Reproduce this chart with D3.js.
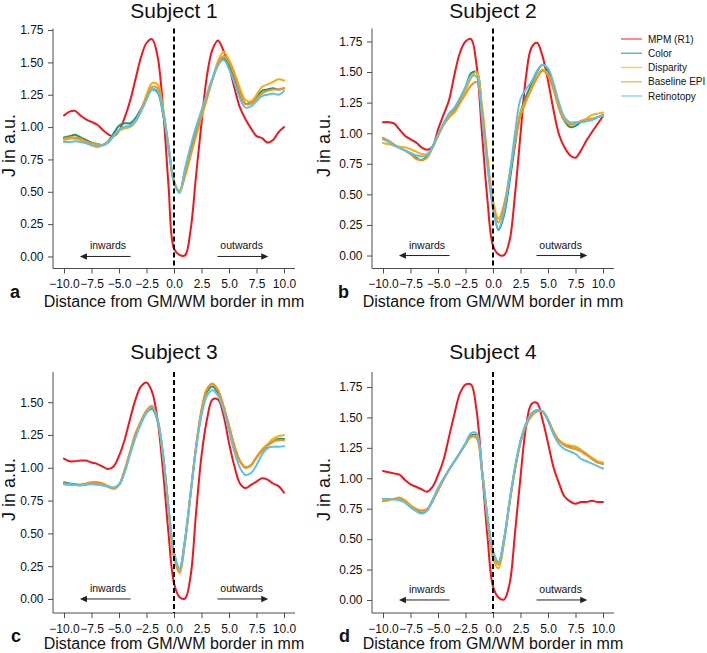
<!DOCTYPE html>
<html>
<head>
<meta charset="utf-8">
<script src="https://cdn.jsdelivr.net/npm/d3@7"></script>
<style>
  html, body { margin: 0; padding: 0; background: #fff; }
  svg { display: block; font-family: "Liberation Sans", Arial, Helvetica, sans-serif; }
</style>
</head>
<body>
<svg id="chart" width="707" height="653"></svg>
<script>
// ---------------- DATA ----------------
const positions = [-10, -9.5, -9, -8.5, -8, -7.5, -7, -6.5, -6, -5.5, -5, -4.5, -4, -3.5, -3, -2.5, -2, -1.5, -1, -0.5,
  0, 0.5, 1, 1.5, 2, 2.5, 3, 3.5, 4, 4.5, 5, 5.5, 6, 6.5, 7, 7.5, 8, 8.5, 9, 9.5, 10];

const subjects = ["Subject 1", "Subject 2", "Subject 3", "Subject 4"];
const panelLetters = ["a", "b", "c", "d"];
const seriesNames = ["MPM (R1)", "Color", "Disparity", "Baseline EPI", "Retinotopy"];
const seriesColors = ["#f0161e", "#13997a", "#f2b111", "#f7901e", "#5cc2e4"];
const xTicks = [-10, -7.5, -5, -2.5, 0, 2.5, 5, 7.5, 10];
const yTicks1 = [0, 0.25, 0.5, 0.75, 1, 1.25, 1.5, 1.75];
const yTicks2 = [0, 0.25, 0.5, 0.75, 1, 1.25, 1.5, 1.75];
const yTicks3 = [0, 0.25, 0.5, 0.75, 1, 1.25, 1.5];
const yTicks4 = [0, 0.25, 0.5, 0.75, 1, 1.25, 1.5, 1.75];
const xTitle = "Distance from GM/WM border in mm";
const yTitle = "J in a.u.";

// Subject 1
const s1_mpm = [1.09, 1.12, 1.125, 1.09, 1.06, 1.04, 1.02, 0.98, 0.945, 0.93, 0.97, 1.07, 1.20, 1.37, 1.54, 1.65, 1.68, 1.55, 1.15, 0.55,
  0.06, 0.012, 0.008, 0.2, 0.62, 1.03, 1.40, 1.60, 1.67, 1.59, 1.47, 1.30, 1.15, 1.06, 0.99, 0.93, 0.915, 0.88, 0.90, 0.96, 1.00];
const s1_color = [0.92, 0.93, 0.94, 0.92, 0.90, 0.88, 0.87, 0.86, 0.89, 0.95, 1.01, 1.03, 1.03, 1.07, 1.14, 1.23, 1.29, 1.27, 1.10, 0.84,
  0.58, 0.50, 0.66, 0.82, 0.97, 1.11, 1.24, 1.37, 1.48, 1.53, 1.47, 1.37, 1.25, 1.18, 1.19, 1.23, 1.28, 1.29, 1.30, 1.29, 1.30];
const s1_disp = [0.90, 0.91, 0.91, 0.90, 0.88, 0.86, 0.845, 0.86, 0.89, 0.93, 0.97, 0.99, 1.00, 1.04, 1.13, 1.25, 1.34, 1.33, 1.15, 0.86,
  0.58, 0.51, 0.63, 0.78, 0.93, 1.08, 1.22, 1.37, 1.51, 1.58, 1.52, 1.42, 1.30, 1.21, 1.20, 1.25, 1.31, 1.33, 1.35, 1.37, 1.36];
const s1_base = [0.91, 0.92, 0.92, 0.91, 0.89, 0.875, 0.87, 0.86, 0.88, 0.93, 0.98, 1.00, 1.01, 1.05, 1.13, 1.23, 1.31, 1.30, 1.12, 0.85,
  0.57, 0.50, 0.62, 0.78, 0.94, 1.09, 1.23, 1.37, 1.49, 1.55, 1.50, 1.40, 1.27, 1.18, 1.18, 1.22, 1.26, 1.28, 1.29, 1.29, 1.30];
const s1_ret = [0.885, 0.885, 0.89, 0.885, 0.875, 0.86, 0.855, 0.86, 0.88, 0.93, 0.98, 1.00, 1.01, 1.05, 1.12, 1.21, 1.29, 1.28, 1.12, 0.85,
  0.58, 0.49, 0.68, 0.85, 1.00, 1.13, 1.26, 1.38, 1.48, 1.52, 1.45, 1.34, 1.22, 1.15, 1.16, 1.20, 1.24, 1.25, 1.26, 1.25, 1.28];

// Subject 2
const s2_mpm = [1.09, 1.09, 1.08, 1.03, 0.98, 0.95, 0.925, 0.885, 0.865, 0.89, 1.03, 1.15, 1.27, 1.48, 1.66, 1.75, 1.77, 1.56, 1.00, 0.45,
  0.08, 0.01, 0.003, 0.12, 0.50, 0.99, 1.46, 1.70, 1.74, 1.63, 1.43, 1.19, 0.99, 0.885, 0.82, 0.80, 0.86, 0.94, 1.01, 1.075, 1.14];
const s2_color = [0.96, 0.93, 0.90, 0.88, 0.86, 0.83, 0.80, 0.78, 0.81, 0.89, 0.98, 1.07, 1.13, 1.19, 1.27, 1.37, 1.49, 1.50, 1.17, 0.76,
  0.40, 0.21, 0.33, 0.60, 0.90, 1.17, 1.30, 1.40, 1.50, 1.56, 1.51, 1.38, 1.22, 1.10, 1.05, 1.06, 1.09, 1.10, 1.11, 1.13, 1.15];
const s2_disp = [0.92, 0.91, 0.90, 0.89, 0.885, 0.87, 0.85, 0.83, 0.83, 0.88, 0.98, 1.07, 1.13, 1.17, 1.25, 1.35, 1.45, 1.50, 1.22, 0.80,
  0.45, 0.30, 0.42, 0.66, 0.95, 1.17, 1.27, 1.37, 1.46, 1.52, 1.48, 1.36, 1.21, 1.11, 1.08, 1.08, 1.10, 1.12, 1.15, 1.16, 1.17];
const s2_base = [0.96, 0.94, 0.91, 0.88, 0.86, 0.83, 0.79, 0.78, 0.80, 0.88, 0.98, 1.07, 1.14, 1.18, 1.25, 1.32, 1.39, 1.42, 1.20, 0.78,
  0.42, 0.27, 0.40, 0.65, 0.93, 1.14, 1.26, 1.36, 1.45, 1.51, 1.47, 1.36, 1.20, 1.10, 1.07, 1.08, 1.10, 1.11, 1.12, 1.13, 1.15];
const s2_ret = [0.95, 0.93, 0.90, 0.88, 0.86, 0.84, 0.82, 0.81, 0.82, 0.89, 0.99, 1.08, 1.16, 1.21, 1.29, 1.38, 1.47, 1.46, 1.13, 0.72,
  0.38, 0.22, 0.36, 0.65, 1.00, 1.28, 1.36, 1.42, 1.51, 1.56, 1.53, 1.41, 1.25, 1.13, 1.09, 1.09, 1.09, 1.10, 1.11, 1.13, 1.14];

// Subject 3
const s3_mpm = [1.07, 1.05, 1.05, 1.055, 1.055, 1.04, 1.03, 1.01, 0.99, 1.01, 1.09, 1.21, 1.37, 1.52, 1.62, 1.65, 1.58, 1.37, 0.98, 0.50,
  0.12, 0.015, 0.003, 0.17, 0.65, 1.09, 1.37, 1.52, 1.52, 1.40, 1.19, 1.01, 0.88, 0.845, 0.87, 0.895, 0.92, 0.91, 0.88, 0.86, 0.81];
const s3_color = [0.89, 0.88, 0.875, 0.87, 0.875, 0.88, 0.885, 0.875, 0.86, 0.845, 0.87, 0.97, 1.11, 1.24, 1.34, 1.42, 1.45, 1.36, 1.10, 0.70,
  0.35, 0.23, 0.45, 0.80, 1.15, 1.42, 1.58, 1.62, 1.57, 1.46, 1.31, 1.16, 1.05, 1.005, 1.02, 1.08, 1.13, 1.17, 1.20, 1.22, 1.22];
const s3_disp = [0.88, 0.875, 0.87, 0.87, 0.875, 0.885, 0.89, 0.88, 0.86, 0.84, 0.87, 0.98, 1.12, 1.26, 1.36, 1.44, 1.47, 1.37, 1.10, 0.69,
  0.33, 0.21, 0.44, 0.80, 1.16, 1.44, 1.60, 1.64, 1.59, 1.47, 1.32, 1.17, 1.05, 1.00, 1.02, 1.08, 1.14, 1.18, 1.22, 1.24, 1.25];
const s3_base = [0.88, 0.87, 0.87, 0.87, 0.88, 0.89, 0.89, 0.88, 0.855, 0.84, 0.87, 0.98, 1.12, 1.26, 1.35, 1.43, 1.47, 1.37, 1.10, 0.68,
  0.32, 0.20, 0.43, 0.79, 1.16, 1.44, 1.60, 1.64, 1.59, 1.47, 1.32, 1.16, 1.05, 1.00, 1.02, 1.08, 1.13, 1.17, 1.20, 1.21, 1.21];
const s3_ret = [0.875, 0.87, 0.87, 0.865, 0.87, 0.875, 0.87, 0.865, 0.855, 0.85, 0.87, 0.96, 1.10, 1.23, 1.34, 1.42, 1.46, 1.37, 1.10, 0.70,
  0.36, 0.23, 0.45, 0.80, 1.14, 1.40, 1.55, 1.59, 1.55, 1.44, 1.28, 1.12, 1.00, 0.945, 0.96, 1.02, 1.10, 1.15, 1.16, 1.16, 1.165];

// Subject 4
const s4_mpm = [1.06, 1.05, 1.04, 1.03, 0.985, 0.95, 0.93, 0.91, 0.89, 0.93, 1.025, 1.15, 1.34, 1.53, 1.70, 1.77, 1.77, 1.56, 1.07, 0.52,
  0.11, 0.02, 0.003, 0.13, 0.55, 1.01, 1.42, 1.61, 1.62, 1.48, 1.29, 1.09, 0.96, 0.85, 0.81, 0.79, 0.805, 0.805, 0.815, 0.805, 0.805];
const s4_color = [0.83, 0.83, 0.83, 0.84, 0.81, 0.77, 0.74, 0.72, 0.74, 0.82, 0.91, 0.99, 1.07, 1.14, 1.21, 1.28, 1.35, 1.35, 1.05, 0.68,
  0.40, 0.31, 0.50, 0.80, 1.08, 1.30, 1.44, 1.53, 1.56, 1.55, 1.48, 1.38, 1.31, 1.28, 1.26, 1.26, 1.23, 1.20, 1.16, 1.13, 1.12];
const s4_disp = [0.82, 0.83, 0.83, 0.84, 0.82, 0.78, 0.75, 0.73, 0.74, 0.81, 0.90, 0.99, 1.07, 1.14, 1.21, 1.28, 1.34, 1.34, 1.07, 0.66,
  0.34, 0.26, 0.47, 0.80, 1.08, 1.30, 1.44, 1.52, 1.55, 1.55, 1.48, 1.38, 1.31, 1.28, 1.27, 1.26, 1.23, 1.20, 1.17, 1.14, 1.13];
const s4_base = [0.81, 0.82, 0.83, 0.835, 0.81, 0.77, 0.745, 0.735, 0.75, 0.81, 0.90, 0.99, 1.07, 1.14, 1.21, 1.28, 1.34, 1.33, 1.06, 0.67,
  0.37, 0.29, 0.48, 0.79, 1.07, 1.29, 1.43, 1.51, 1.55, 1.55, 1.48, 1.38, 1.31, 1.27, 1.25, 1.24, 1.22, 1.19, 1.16, 1.13, 1.12];
const s4_ret = [0.83, 0.83, 0.825, 0.82, 0.80, 0.76, 0.73, 0.71, 0.73, 0.82, 0.92, 1.00, 1.07, 1.14, 1.21, 1.29, 1.37, 1.37, 1.06, 0.68,
  0.40, 0.31, 0.50, 0.81, 1.09, 1.31, 1.45, 1.53, 1.56, 1.55, 1.47, 1.36, 1.28, 1.24, 1.22, 1.20, 1.16, 1.14, 1.12, 1.10, 1.08];

const subjectSeries = [
  [s1_mpm, s1_color, s1_disp, s1_base, s1_ret],
  [s2_mpm, s2_color, s2_disp, s2_base, s2_ret],
  [s3_mpm, s3_color, s3_disp, s3_base, s3_ret],
  [s4_mpm, s4_color, s4_disp, s4_base, s4_ret]
];
const subjectYTicks = [yTicks1, yTicks2, yTicks3, yTicks4];

// ---------------- LAYOUT ----------------
const panels = [
  {l: 53, r: 295, t: 28.5, b: 268.5, yDom: [-0.093, 1.762], titleY: 17.5, xlabY: 306.5, letterX: 10, letterY: 298, ylabX: 14.5},
  {l: 372, r: 614, t: 28.5, b: 268.5, yDom: [-0.106, 1.856], titleY: 17.5, xlabY: 306.5, letterX: 338, letterY: 298, ylabX: 329.5},
  {l: 53, r: 295, t: 372, b: 613, yDom: [-0.107, 1.730], titleY: 358.5, xlabY: 649, letterX: 11, letterY: 642, ylabX: 14.5},
  {l: 372, r: 614, t: 372, b: 613, yDom: [-0.107, 1.873], titleY: 358.5, xlabY: 649, letterX: 339, letterY: 642, ylabX: 329.5}
];

const svg = d3.select("#chart");
const axisColor = "#4d4d4d";

panels.forEach((p, i) => {
  const x = d3.scaleLinear().domain([-11, 11]).range([p.l, p.r]);
  const y = d3.scaleLinear().domain(p.yDom).range([p.b, p.t]);
  const g = svg.append("g");

  // axes
  const xAxis = d3.axisBottom(x).tickValues(xTicks).tickFormat(d3.format(".1f")).tickSize(5).tickSizeOuter(0).tickPadding(6);
  const yAxis = d3.axisLeft(y).tickValues(subjectYTicks[i]).tickFormat(d3.format(".2f")).tickSize(5).tickSizeOuter(0).tickPadding(4.5);
  const gx = g.append("g").attr("transform", `translate(0,${p.b})`).call(xAxis);
  const gy = g.append("g").attr("transform", `translate(${p.l},0)`).call(yAxis);
  [gx, gy].forEach(a => {
    a.select(".domain").remove();
    a.selectAll(".tick line").attr("stroke", axisColor).attr("stroke-width", 1);
    a.selectAll(".tick text").attr("fill", "#111").style("font-size", "12px");
  });
  g.append("line").attr("x1", p.l).attr("x2", p.l).attr("y1", p.t).attr("y2", p.b)
    .attr("stroke", axisColor).attr("stroke-width", 1);
  g.append("line").attr("x1", p.l).attr("x2", p.r).attr("y1", p.b).attr("y2", p.b)
    .attr("stroke", axisColor).attr("stroke-width", 1);

  // lines
  const line = d3.line().x((d, k) => x(positions[k])).y(d => y(d)).curve(d3.curveCatmullRom.alpha(0.5));
  subjectSeries[i].forEach((vals, s) => {
    g.append("path").datum(vals).attr("d", line)
      .attr("fill", "none").attr("stroke", seriesColors[s])
      .attr("stroke-width", 2).attr("stroke-linejoin", "round").attr("stroke-linecap", "round");
  });

  // dashed border line
  g.append("line").attr("x1", x(0)).attr("x2", x(0)).attr("y1", p.t).attr("y2", p.b)
    .attr("stroke", "#000").attr("stroke-width", 2).attr("stroke-dasharray", "5,3");

  // arrows
  const ay = y(0);
  const arrowCol = "#222";
  g.append("line").attr("x1", x(-3.95)).attr("x2", x(-8.55) + 6).attr("y1", ay).attr("y2", ay)
    .attr("stroke", arrowCol).attr("stroke-width", 1);
  g.append("path").attr("d", `M${x(-8.55)},${ay} l7,-3.2 l0,6.4 Z`).attr("fill", arrowCol);
  g.append("line").attr("x1", x(3.95)).attr("x2", x(8.57) - 6).attr("y1", ay).attr("y2", ay)
    .attr("stroke", arrowCol).attr("stroke-width", 1);
  g.append("path").attr("d", `M${x(8.57)},${ay} l-7,-3.2 l0,6.4 Z`).attr("fill", arrowCol);
  g.append("text").attr("x", x(-6)).attr("y", ay - 7).attr("text-anchor", "middle")
    .style("font-size", "10.5px").attr("fill", "#111").text("inwards");
  g.append("text").attr("x", x(6.15)).attr("y", ay - 7).attr("text-anchor", "middle")
    .style("font-size", "10.5px").attr("fill", "#111").text("outwards");

  // titles and labels
  g.append("text").attr("x", (p.l + p.r) / 2).attr("y", p.titleY).attr("text-anchor", "middle")
    .style("font-size", "21px").attr("fill", "#111").text(subjects[i]);
  g.append("text").attr("x", (p.l + p.r) / 2).attr("y", p.xlabY).attr("text-anchor", "middle")
    .style("font-size", "16px").attr("fill", "#111").text(xTitle);
  g.append("text").attr("transform", `translate(${p.ylabX},${(p.t + p.b) / 2 - 3}) rotate(-90)`)
    .attr("text-anchor", "middle").style("font-size", "18px").attr("fill", "#111").text(yTitle);
  g.append("text").attr("x", p.letterX).attr("y", p.letterY)
    .style("font-size", "18px").style("font-weight", "bold").attr("fill", "#111").text(panelLetters[i]);
});

// legend
const lg = svg.append("g");
seriesNames.forEach((name, s) => {
  const ly = 39 + s * 14.25;
  lg.append("line").attr("x1", 621).attr("x2", 642).attr("y1", ly).attr("y2", ly)
    .attr("stroke", seriesColors[s]).attr("stroke-width", 1.5).attr("stroke-opacity", 0.65);
  lg.append("text").attr("x", 648).attr("y", ly + 3.6).style("font-size", "10px").attr("fill", "#111").text(name);
});
</script>
</body>
</html>
